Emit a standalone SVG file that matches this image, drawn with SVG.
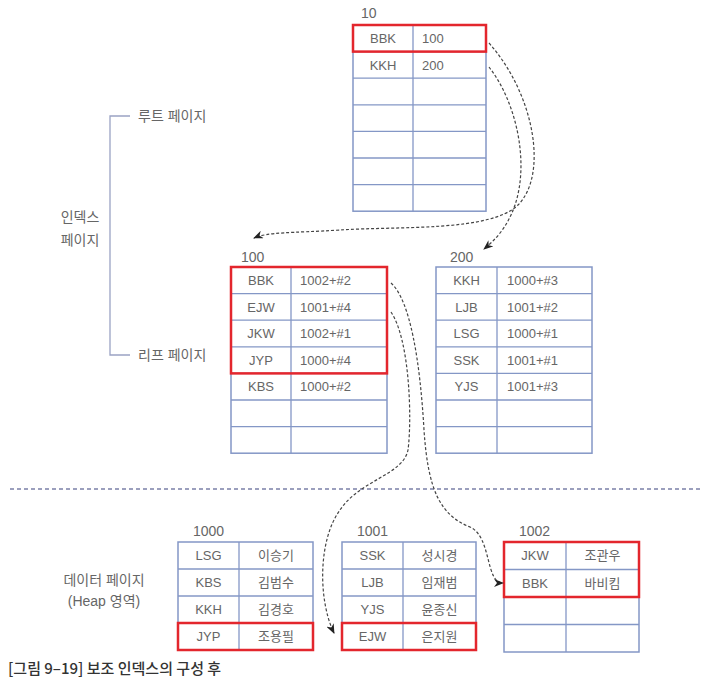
<svg xmlns="http://www.w3.org/2000/svg" width="714" height="685" viewBox="0 0 714 685">
<defs>
<style>
.tb{fill:#fff;stroke:#8497c6;stroke-width:1.5}
.ln{stroke:#8497c6;stroke-width:1.3}
.red{fill:none;stroke:#e3262d;stroke-width:2.5}
.t{font-family:"Liberation Sans","Noto Sans CJK KR",sans-serif;font-size:13px;fill:#666}
.k{font-family:"Noto Sans CJK KR",sans-serif;font-size:13px;fill:#666}
.c{text-anchor:middle}
.lbl{font-family:"Liberation Sans","Noto Sans CJK KR",sans-serif;font-size:14px;fill:#666}
.con{fill:none;stroke:#444;stroke-width:1.2;stroke-dasharray:3 2}
</style>
<marker id="ah" viewBox="0 0 10 8" refX="9" refY="4" markerWidth="10" markerHeight="8" markerUnits="userSpaceOnUse" orient="auto">
<path d="M0,0 L10,4 L0,8 L3,4 z" fill="#222"/>
</marker>
</defs>
<rect width="714" height="685" fill="#fff"/>

<g id="side-labels">
<path d="M130,116 H110 V355 H130" fill="none" stroke="#9aa3c4" stroke-width="1.3"/>
<text class="lbl" x="138" y="121">루트 페이지</text>
<text class="lbl" x="138" y="360">리프 페이지</text>
<text class="lbl c" x="80" y="222">인덱스</text>
<text class="lbl c" x="80" y="245">페이지</text>
<text class="lbl c" x="104" y="585">데이터 페이지</text>
<text class="lbl c" x="104" y="606">(Heap 영역)</text>
</g>

<line x1="10" y1="489" x2="702" y2="489" stroke="#7b80a8" stroke-width="1.3" stroke-dasharray="4 3"/>

<g id="root-10">
<text class="lbl" x="361" y="18">10</text>
<rect class="tb" x="353" y="25" width="133" height="186.2"/>
<line class="ln" x1="413" y1="25" x2="413" y2="211.2"/>
<line class="ln" x1="353" y1="51.6" x2="486" y2="51.6"/>
<line class="ln" x1="353" y1="78.2" x2="486" y2="78.2"/>
<line class="ln" x1="353" y1="104.8" x2="486" y2="104.8"/>
<line class="ln" x1="353" y1="131.4" x2="486" y2="131.4"/>
<line class="ln" x1="353" y1="158" x2="486" y2="158"/>
<line class="ln" x1="353" y1="184.6" x2="486" y2="184.6"/>
<text class="t c" x="383" y="43">BBK</text><text class="t" x="422" y="43">100</text>
<text class="t c" x="383" y="70">KKH</text><text class="t" x="422" y="70">200</text>
<rect class="red" x="353" y="25" width="133" height="26.6"/>
</g>

<g id="leaf-100">
<text class="lbl" x="241" y="262">100</text>
<rect class="tb" x="231" y="267" width="156" height="186.2"/>
<line class="ln" x1="291" y1="267" x2="291" y2="453.2"/>
<line class="ln" x1="231" y1="293.6" x2="387" y2="293.6"/>
<line class="ln" x1="231" y1="320.2" x2="387" y2="320.2"/>
<line class="ln" x1="231" y1="346.8" x2="387" y2="346.8"/>
<line class="ln" x1="231" y1="373.4" x2="387" y2="373.4"/>
<line class="ln" x1="231" y1="400" x2="387" y2="400"/>
<line class="ln" x1="231" y1="426.6" x2="387" y2="426.6"/>
<text class="t c" x="261" y="285">BBK</text><text class="t" x="300" y="285">1002+#2</text>
<text class="t c" x="261" y="312">EJW</text><text class="t" x="300" y="312">1001+#4</text>
<text class="t c" x="261" y="338">JKW</text><text class="t" x="300" y="338">1002+#1</text>
<text class="t c" x="261" y="365">JYP</text><text class="t" x="300" y="365">1000+#4</text>
<text class="t c" x="261" y="391">KBS</text><text class="t" x="300" y="391">1000+#2</text>
<rect class="red" x="231" y="267" width="156" height="106.4"/>
</g>

<g id="leaf-200">
<text class="lbl" x="450" y="262">200</text>
<rect class="tb" x="436" y="267" width="156" height="186.2"/>
<line class="ln" x1="497" y1="267" x2="497" y2="453.2"/>
<line class="ln" x1="436" y1="293.6" x2="592" y2="293.6"/>
<line class="ln" x1="436" y1="320.2" x2="592" y2="320.2"/>
<line class="ln" x1="436" y1="346.8" x2="592" y2="346.8"/>
<line class="ln" x1="436" y1="373.4" x2="592" y2="373.4"/>
<line class="ln" x1="436" y1="400" x2="592" y2="400"/>
<line class="ln" x1="436" y1="426.6" x2="592" y2="426.6"/>
<text class="t c" x="466.5" y="285">KKH</text><text class="t" x="507" y="285">1000+#3</text>
<text class="t c" x="466.5" y="312">LJB</text><text class="t" x="507" y="312">1001+#2</text>
<text class="t c" x="466.5" y="338">LSG</text><text class="t" x="507" y="338">1000+#1</text>
<text class="t c" x="466.5" y="365">SSK</text><text class="t" x="507" y="365">1001+#1</text>
<text class="t c" x="466.5" y="391">YJS</text><text class="t" x="507" y="391">1001+#3</text>
</g>

<g id="data-1000">
<text class="lbl" x="193" y="536">1000</text>
<rect class="tb" x="178" y="542" width="135" height="108"/>
<line class="ln" x1="239" y1="542" x2="239" y2="650"/>
<line class="ln" x1="178" y1="569" x2="313" y2="569"/>
<line class="ln" x1="178" y1="596" x2="313" y2="596"/>
<line class="ln" x1="178" y1="623" x2="313" y2="623"/>
<text class="t c" x="208.5" y="560">LSG</text><text class="k c" x="276" y="560">이승기</text>
<text class="t c" x="208.5" y="587">KBS</text><text class="k c" x="276" y="587">김범수</text>
<text class="t c" x="208.5" y="614">KKH</text><text class="k c" x="276" y="614">김경호</text>
<text class="t c" x="208.5" y="641">JYP</text><text class="k c" x="276" y="641">조용필</text>
<rect class="red" x="178" y="623" width="135" height="27"/>
</g>

<g id="data-1001">
<text class="lbl" x="357" y="536">1001</text>
<rect class="tb" x="342" y="542" width="134" height="108"/>
<line class="ln" x1="403" y1="542" x2="403" y2="650"/>
<line class="ln" x1="342" y1="569" x2="476" y2="569"/>
<line class="ln" x1="342" y1="596" x2="476" y2="596"/>
<line class="ln" x1="342" y1="623" x2="476" y2="623"/>
<text class="t c" x="372.5" y="560">SSK</text><text class="k c" x="439.5" y="560">성시경</text>
<text class="t c" x="372.5" y="587">LJB</text><text class="k c" x="439.5" y="587">임재범</text>
<text class="t c" x="372.5" y="614">YJS</text><text class="k c" x="439.5" y="614">윤종신</text>
<text class="t c" x="372.5" y="641">EJW</text><text class="k c" x="439.5" y="641">은지원</text>
<rect class="red" x="342" y="623" width="134" height="27"/>
</g>

<g id="data-1002">
<text class="lbl" x="519" y="536">1002</text>
<rect class="tb" x="504" y="542" width="135" height="110"/>
<line class="ln" x1="566" y1="542" x2="566" y2="652"/>
<line class="ln" x1="504" y1="569.5" x2="639" y2="569.5"/>
<line class="ln" x1="504" y1="597" x2="639" y2="597"/>
<line class="ln" x1="504" y1="624.5" x2="639" y2="624.5"/>
<text class="t c" x="535" y="560">JKW</text><text class="k c" x="602.5" y="560">조관우</text>
<text class="t c" x="535" y="588">BBK</text><text class="k c" x="602.5" y="588">바비킴</text>
<rect class="red" x="504" y="542" width="135" height="55"/>
</g>

<g id="connectors">
<path class="con" marker-end="url(#ah)" d="M489,43 C535,95 548,175 518,205 C490,232 400,226 340,230 C290,233 268,232 254,238"/>
<path class="con" marker-end="url(#ah)" d="M489,67 C515,100 530,160 515,205 C507,228 495,240 484,249"/>
<path class="con" marker-end="url(#ah)" d="M391,283 C410,300 420,360 424,430 C428,490 440,515 470,527 C492,537 485,583 503,583"/>
<path class="con" marker-end="url(#ah)" d="M391,312 C410,340 412,420 408,450 C403,475 360,480 340,510 C318,540 318,600 334,633"/>
</g>

<text x="8" y="674" font-family="'Noto Sans CJK KR',sans-serif" font-size="15" font-weight="500" fill="#333">[그림 9–19] 보조 인덱스의 구성 후</text>
</svg>
